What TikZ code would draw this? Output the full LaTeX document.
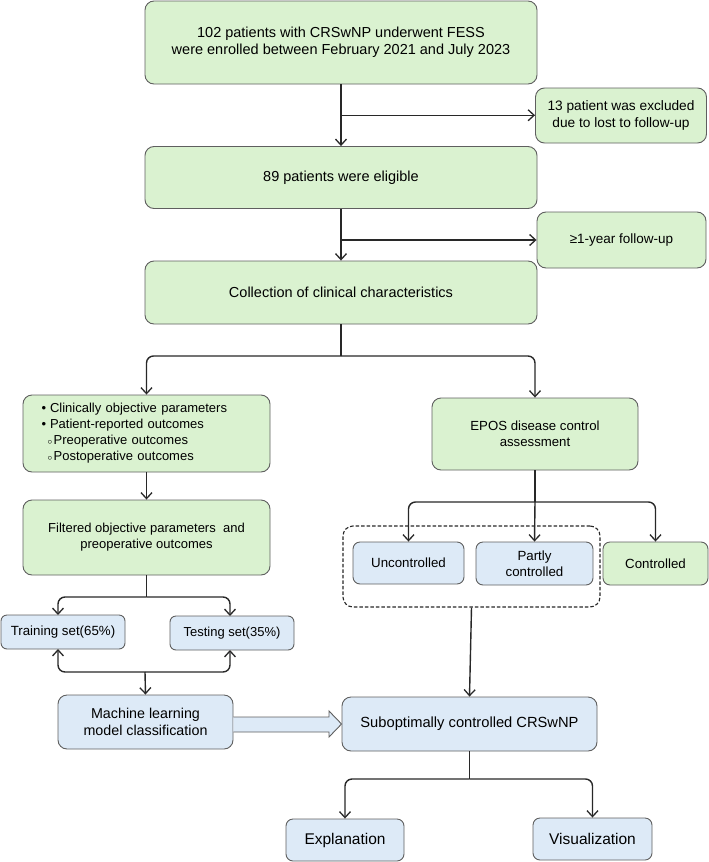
\documentclass[tikz,border=0pt]{standalone}
\usepackage{fontspec}
\setmainfont{Liberation Sans}
\usetikzlibrary{arrows.meta,calc}
\definecolor{gfill}{RGB}{218,242,208}
\definecolor{bfill}{RGB}{221,234,247}
\definecolor{edgec}{RGB}{95,95,95}
\definecolor{linec}{RGB}{40,40,40}
\newcommand{\subbul}{\raisebox{0.5pt}{$\scriptstyle\circ$}}
\begin{document}
\begin{tikzpicture}[x=1pt,y=-1pt,
  box/.style={draw=edgec, line width=0.9pt, rounded corners=9pt, align=center, inner sep=2pt, font=\fontsize{14.5}{17}\selectfont, text=black},
  gbox/.style={box, fill=gfill},
  bbox/.style={box, fill=bfill},
  conn/.style={draw=linec, line width=1.4pt},
  arr/.style={conn, -{Straight Barb[length=6pt,width=11pt,line width=1.3pt]}},
  branch/.style={arr, rounded corners=7pt}
]
\useasboundingbox (0,0) rectangle (709,862);

% nodes
\node[gbox, minimum width=392pt, minimum height=83pt] (top) at (341,42.5)
  {102 patients with CRSwNP underwent FESS\\were enrolled between February 2021 and July 2023};
\node[gbox, minimum width=171pt, minimum height=55pt, font=\fontsize{13.7}{16.5}\selectfont] (excl) at (621,115.5)
  {13 patient was excluded\\due to lost to follow-up};
\node[gbox, minimum width=392pt, minimum height=62pt] (elig) at (341,177.5) {89 patients were eligible};
\node[gbox, minimum width=169pt, minimum height=56pt, font=\fontsize{13.5}{16}\selectfont] (fu) at (621.5,240) {≥1-year follow-up};
\node[gbox, minimum width=392pt, minimum height=63pt] (coll) at (341,292.5) {Collection of clinical characteristics};

\node[gbox, minimum width=247pt, minimum height=77pt, text width=228pt, align=left, font=\fontsize{13}{16}\selectfont] (clin) at (146.5,433.5)
  {\hspace{9pt}\textbullet\hspace{4pt}Clinically objective parameters\\
   \hspace{9pt}\textbullet\hspace{4pt}Patient-reported outcomes\\
   \hspace{15pt}\subbul\hspace{1.5pt}Preoperative outcomes\\
   \hspace{15pt}\subbul\hspace{1.5pt}Postoperative outcomes};
\node[gbox, minimum width=206pt, minimum height=72pt, font=\fontsize{13.2}{16}\selectfont] (epos) at (535,434)
  {EPOS disease control\\assessment};
\node[gbox, minimum width=247pt, minimum height=75pt, font=\fontsize{13}{16}\selectfont] (filt) at (146.5,537.5)
  {Filtered objective parameters\ \ and\\preoperative outcomes};

\node[bbox, minimum width=124pt, minimum height=34pt, rounded corners=6pt, font=\fontsize{13.3}{16}\selectfont] (train) at (63,632) {Training set(65\%)};
\node[bbox, minimum width=124pt, minimum height=34pt, rounded corners=6pt, font=\fontsize{13}{16}\selectfont] (test) at (232,633) {Testing set(35\%)};
\node[bbox, minimum width=175pt, minimum height=54pt, font=\fontsize{14.3}{17}\selectfont] (ml) at (145.5,722)
  {Machine learning\\model classification};

\node[draw=linec, line width=1.1pt, dash pattern=on 3.5pt off 2pt, rounded corners=10pt, minimum width=257pt, minimum height=81pt] (grp) at (471.5,566.5) {};
\node[bbox, minimum width=111pt, minimum height=42pt, rounded corners=7pt, font=\fontsize{13.3}{16}\selectfont] (unc) at (408.5,563) {Uncontrolled};
\node[bbox, minimum width=117pt, minimum height=43pt, rounded corners=7pt, font=\fontsize{13.3}{16}\selectfont] (partly) at (534.5,563.5) {Partly\\controlled};
\node[gbox, minimum width=105pt, minimum height=43pt, rounded corners=7pt, font=\fontsize{13.3}{16}\selectfont] (ctrl) at (655.5,563.5) {Controlled};

\node[bbox, minimum width=255pt, minimum height=54pt, font=\fontsize{14.7}{17}\selectfont] (sub) at (469.5,724) {Suboptimally controlled CRSwNP};
\node[bbox, minimum width=118pt, minimum height=42pt, rounded corners=7pt, font=\fontsize{15.5}{18}\selectfont] (expl) at (345,840) {Explanation};
\node[bbox, minimum width=119pt, minimum height=42pt, rounded corners=7pt, font=\fontsize{15.5}{18}\selectfont] (vis) at (592.5,839) {Visualization};

% connectors
\draw[arr] (top.south) -- (elig.north);
\coordinate (b1) at ($(top.south)!0.5!(elig.north)$);
\draw[arr] (b1) -- (b1 -| excl.west);
\draw[arr] (elig.south) -- (coll.north);
\coordinate (b2) at (341,240);
\draw[arr] (b2) -- (b2 -| fu.west);

\coordinate (b3) at (341,356);
\draw[conn] (coll.south) -- (b3);
\draw[branch] (b3) -- (b3 -| clin.north) -- (clin.north);
\draw[branch] (b3) -- (b3 -| epos.north) -- (epos.north);

\draw[arr] (clin.south) -- (filt.north);

\coordinate (b4) at (146.5,597);
\draw[conn] (filt.south) -- (b4);
\draw[branch] (b4) -- (58,597) -- (58,615);
\draw[branch] (b4) -- (230,597) -- (230,616);

\coordinate (b5) at (145,672);
\draw[branch] (b5) -- (58,672) -- (58,649);
\draw[branch] (b5) -- (230,672) -- (230,650);
\draw[arr] (b5) -- (ml.north);

\coordinate (b6) at (535,502);
\draw[conn] (epos.south) -- (b6);
\draw[arr] (b6) -- (partly.north);
\draw[branch] (b6) -- (b6 -| unc.north) -- (unc.north);
\draw[branch] (b6) -- (b6 -| ctrl.north) -- (ctrl.north);

\draw[arr] (grp.south) -- (sub.north);

% hollow block arrow
\draw[draw=edgec, fill=bfill, line width=0.9pt]
  ($(ml.east)+(0,-5)$) -- (329,717) -- (329,711) -- (sub.west) -- (329,737) -- (329,732) -- ($(ml.east)+(0,10)$);

\coordinate (b7) at (469.5,779);
\draw[conn] (sub.south) -- (b7);
\draw[branch] (b7) -- (b7 -| expl.north) -- (expl.north);
\draw[branch] (b7) -- (b7 -| vis.north) -- (vis.north);
\end{tikzpicture}
\end{document}
